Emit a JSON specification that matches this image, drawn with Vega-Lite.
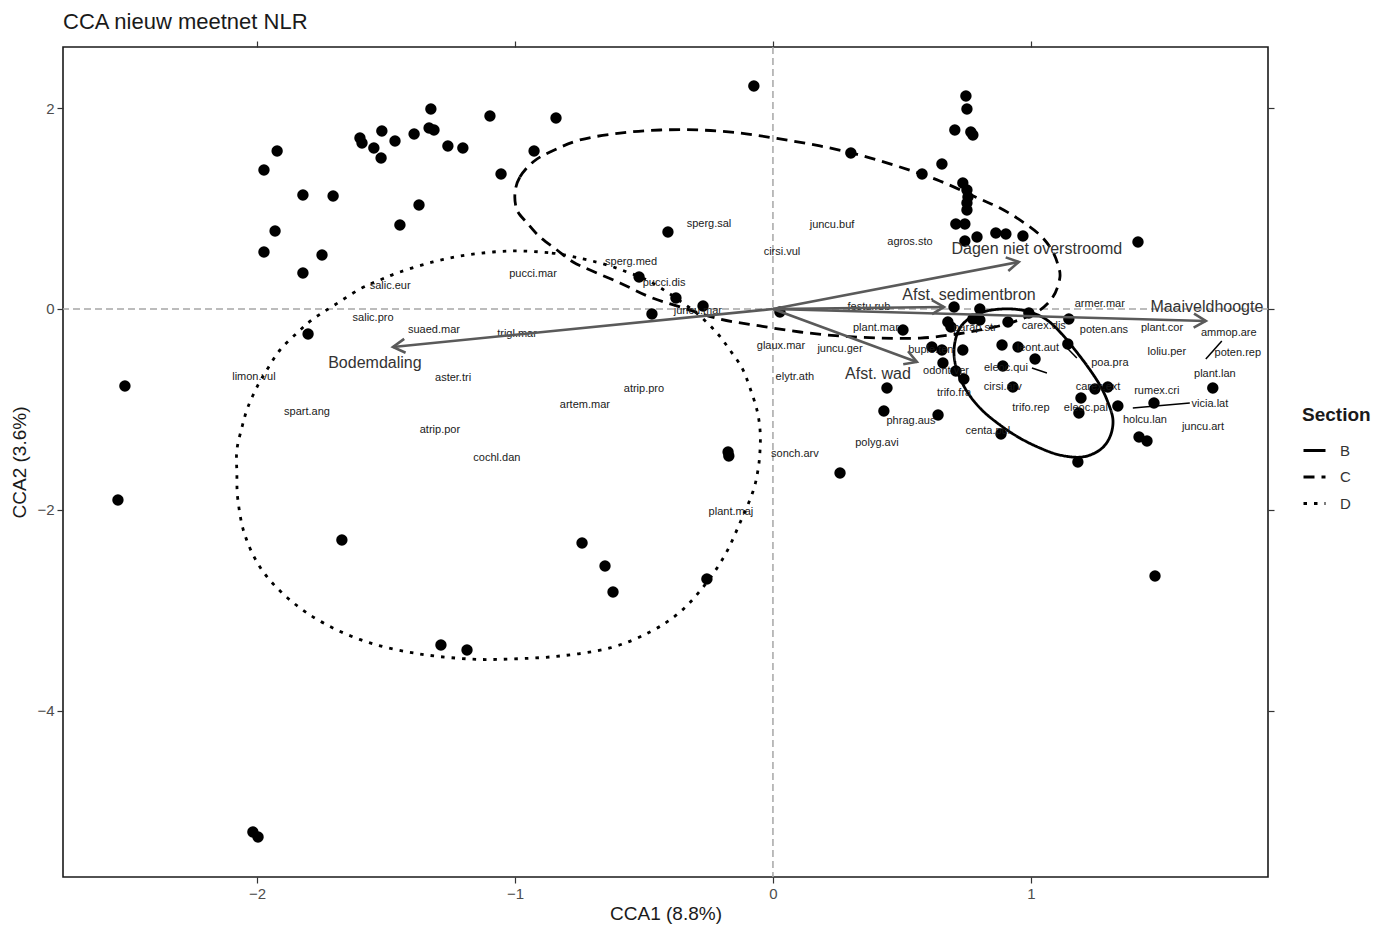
{
  "$schema": "https://vega.github.io/schema/vega-lite/v6.json",
  "width": 1205,
  "height": 830,
  "autosize": {"type": "none"},
  "padding": {"left": 63, "top": 47, "right": 107, "bottom": 48},
  "background": "white",
  "title": {"text": "CCA nieuw meetnet NLR", "anchor": "start", "frame": "group", "fontSize": 22, "font": "Liberation Sans", "fontWeight": "normal", "color": "#1a1a1a", "offset": 6},
  "config": {"view": {"stroke": "#1a1a1a", "strokeWidth": 1.6}, "font": "Liberation Sans"},
  "datasets": {
    "pts": [
      {"x": -1.922, "y": 1.572}, {"x": -1.973, "y": 1.383}, {"x": -1.822, "y": 1.134}, {"x": -1.705, "y": 1.124},
      {"x": -1.930, "y": 0.776}, {"x": -1.973, "y": 0.567}, {"x": -1.748, "y": 0.537}, {"x": -1.822, "y": 0.358},
      {"x": -1.601, "y": 1.701}, {"x": -1.593, "y": 1.652}, {"x": -1.547, "y": 1.602}, {"x": -1.519, "y": 1.502},
      {"x": -1.516, "y": 1.771}, {"x": -1.465, "y": 1.672}, {"x": -1.391, "y": 1.741}, {"x": -1.326, "y": 1.990},
      {"x": -1.333, "y": 1.801}, {"x": -1.314, "y": 1.781}, {"x": -1.260, "y": 1.622}, {"x": -1.202, "y": 1.602},
      {"x": -1.097, "y": 1.920}, {"x": -0.841, "y": 1.900}, {"x": -0.926, "y": 1.572}, {"x": -1.054, "y": 1.343},
      {"x": -1.372, "y": 1.035}, {"x": -1.446, "y": 0.836}, {"x": -1.802, "y": -0.249}, {"x": -2.512, "y": -0.766},
      {"x": -2.539, "y": -1.900}, {"x": -1.671, "y": -2.299}, {"x": -2.016, "y": -5.204}, {"x": -1.996, "y": -5.254},
      {"x": -0.074, "y": 2.219}, {"x": -0.407, "y": 0.766}, {"x": -0.519, "y": 0.318}, {"x": -0.376, "y": 0.109},
      {"x": -0.271, "y": 0.030}, {"x": -0.469, "y": -0.050}, {"x": 0.027, "y": -0.030}, {"x": 0.302, "y": 1.552},
      {"x": 0.578, "y": 1.343}, {"x": 0.655, "y": 1.443}, {"x": -0.174, "y": -1.423}, {"x": -0.171, "y": -1.463},
      {"x": -0.740, "y": -2.328}, {"x": -0.651, "y": -2.557}, {"x": -0.620, "y": -2.816}, {"x": -0.256, "y": -2.687},
      {"x": -1.287, "y": -3.343}, {"x": -1.186, "y": -3.393}, {"x": 0.260, "y": -1.632},
      {"x": 0.748, "y": 2.119}, {"x": 0.752, "y": 1.990}, {"x": 0.705, "y": 1.781}, {"x": 0.767, "y": 1.761},
      {"x": 0.775, "y": 1.731}, {"x": 0.736, "y": 1.254}, {"x": 0.752, "y": 1.184}, {"x": 0.756, "y": 1.114},
      {"x": 0.752, "y": 1.055}, {"x": 0.752, "y": 0.985}, {"x": 0.709, "y": 0.846}, {"x": 0.744, "y": 0.846},
      {"x": 0.744, "y": 0.677}, {"x": 0.791, "y": 0.716}, {"x": 0.864, "y": 0.756}, {"x": 0.903, "y": 0.746},
      {"x": 0.969, "y": 0.726}, {"x": 1.415, "y": 0.667},
      {"x": 0.702, "y": 0.020}, {"x": 0.802, "y": 0.000}, {"x": 0.802, "y": -0.109}, {"x": 0.775, "y": -0.100},
      {"x": 0.678, "y": -0.129}, {"x": 0.690, "y": -0.179}, {"x": 0.911, "y": -0.129}, {"x": 0.992, "y": -0.040},
      {"x": 1.147, "y": -0.100}, {"x": 0.504, "y": -0.209}, {"x": 0.616, "y": -0.378}, {"x": 0.655, "y": -0.408},
      {"x": 0.659, "y": -0.537}, {"x": 0.736, "y": -0.408}, {"x": 0.709, "y": -0.617}, {"x": 0.740, "y": -0.697},
      {"x": 0.888, "y": -0.358}, {"x": 0.950, "y": -0.378}, {"x": 1.016, "y": -0.498}, {"x": 0.891, "y": -0.567},
      {"x": 0.930, "y": -0.776}, {"x": 1.143, "y": -0.348}, {"x": 1.248, "y": -0.796}, {"x": 1.298, "y": -0.776},
      {"x": 1.194, "y": -0.886}, {"x": 1.186, "y": -1.035}, {"x": 1.337, "y": -0.965}, {"x": 0.442, "y": -0.786},
      {"x": 0.430, "y": -1.015}, {"x": 0.640, "y": -1.055}, {"x": 0.884, "y": -1.244}, {"x": 1.477, "y": -0.935},
      {"x": 1.705, "y": -0.786}, {"x": 1.419, "y": -1.274}, {"x": 1.450, "y": -1.313}, {"x": 1.182, "y": -1.522},
      {"x": 1.481, "y": -2.657}
    ],
    "species": [
      {"label": "salic.eur", "x": -1.484, "y": 0.229}, {"label": "salic.pro", "x": -1.550, "y": -0.090},
      {"label": "suaed.mar", "x": -1.314, "y": -0.209}, {"label": "trigl.mar", "x": -0.992, "y": -0.249},
      {"label": "pucci.mar", "x": -0.930, "y": 0.348}, {"label": "limon.vul", "x": -2.012, "y": -0.677},
      {"label": "spart.ang", "x": -1.806, "y": -1.025}, {"label": "aster.tri", "x": -1.240, "y": -0.687},
      {"label": "atrip.por", "x": -1.291, "y": -1.204}, {"label": "cochl.dan", "x": -1.070, "y": -1.483},
      {"label": "artem.mar", "x": -0.729, "y": -0.955}, {"label": "atrip.pro", "x": -0.500, "y": -0.796},
      {"label": "sperg.sal", "x": -0.248, "y": 0.846}, {"label": "sperg.med", "x": -0.550, "y": 0.468},
      {"label": "pucci.dis", "x": -0.422, "y": 0.259}, {"label": "juncu.mar", "x": -0.291, "y": -0.020},
      {"label": "cirsi.vul", "x": 0.035, "y": 0.567}, {"label": "juncu.buf", "x": 0.229, "y": 0.836},
      {"label": "agros.sto", "x": 0.531, "y": 0.667}, {"label": "glaux.mar", "x": 0.031, "y": -0.368},
      {"label": "juncu.ger", "x": 0.260, "y": -0.398}, {"label": "elytr.ath", "x": 0.085, "y": -0.677},
      {"label": "sonch.arv", "x": 0.085, "y": -1.443}, {"label": "plant.maj", "x": -0.163, "y": -2.020},
      {"label": "festu.rub", "x": 0.372, "y": 0.020}, {"label": "plant.mar", "x": 0.399, "y": -0.189},
      {"label": "parap.str", "x": 0.783, "y": -0.189}, {"label": "carex.dis", "x": 1.050, "y": -0.169},
      {"label": "armer.mar", "x": 1.267, "y": 0.050}, {"label": "poten.ans", "x": 1.283, "y": -0.209},
      {"label": "plant.cor", "x": 1.508, "y": -0.189}, {"label": "ammop.are", "x": 1.767, "y": -0.239},
      {"label": "loliu.per", "x": 1.527, "y": -0.428}, {"label": "poten.rep", "x": 1.802, "y": -0.438},
      {"label": "plant.lan", "x": 1.713, "y": -0.647}, {"label": "buple.ten", "x": 0.612, "y": -0.408},
      {"label": "odont.ver", "x": 0.671, "y": -0.617}, {"label": "trifo.fra", "x": 0.702, "y": -0.836},
      {"label": "eleoc.qui", "x": 0.903, "y": -0.587}, {"label": "leont.aut", "x": 1.027, "y": -0.388},
      {"label": "cirsi.arv", "x": 0.891, "y": -0.776}, {"label": "poa.pra", "x": 1.306, "y": -0.537},
      {"label": "carex.ext", "x": 1.260, "y": -0.776}, {"label": "eleoc.pal", "x": 1.213, "y": -0.985},
      {"label": "trifo.rep", "x": 1.000, "y": -0.985}, {"label": "rumex.cri", "x": 1.488, "y": -0.816},
      {"label": "vicia.lat", "x": 1.694, "y": -0.945}, {"label": "holcu.lan", "x": 1.442, "y": -1.104},
      {"label": "juncu.art", "x": 1.667, "y": -1.174}, {"label": "centa.pul", "x": 0.833, "y": -1.214},
      {"label": "phrag.aus", "x": 0.535, "y": -1.114}, {"label": "polyg.avi", "x": 0.403, "y": -1.333}
    ],
    "arrows": [
      {"name": "Dagen niet overstroomd", "x": 0.953, "y": 0.468},
      {"name": "Afst. sedimentbron", "x": 0.663, "y": 0.020},
      {"name": "Maaiveldhoogte", "x": 1.678, "y": -0.119},
      {"name": "Afst. wad", "x": 0.558, "y": -0.527},
      {"name": "Bodemdaling", "x": -1.473, "y": -0.378}
    ],
    "arrowlabels": [
      {"label": "Dagen niet overstroomd", "x": 1.023, "y": 0.597},
      {"label": "Afst. sedimentbron", "x": 0.760, "y": 0.139},
      {"label": "Maaiveldhoogte", "x": 1.682, "y": 0.020},
      {"label": "Afst. wad", "x": 0.407, "y": -0.647},
      {"label": "Bodemdaling", "x": -1.543, "y": -0.537}
    ],
    "segments": [
      {"x": 1.678, "y": -0.498, "x2": 1.740, "y2": -0.318},
      {"x": 1.395, "y": -0.985, "x2": 1.616, "y2": -0.935},
      {"x": 1.004, "y": -0.587, "x2": 1.062, "y2": -0.637},
      {"x": 1.140, "y": -0.388, "x2": 1.178, "y2": -0.488}
    ],
    "ellipses": [
      {"g": "D", "o": 1, "x": -1.019, "y": 0.577}, {"g": "D", "o": 2, "x": -0.857, "y": 0.557},
      {"g": "D", "o": 3, "x": -0.736, "y": 0.498}, {"g": "D", "o": 4, "x": -0.643, "y": 0.438},
      {"g": "D", "o": 5, "x": -0.566, "y": 0.368}, {"g": "D", "o": 6, "x": -0.488, "y": 0.289},
      {"g": "D", "o": 7, "x": -0.411, "y": 0.169}, {"g": "D", "o": 8, "x": -0.349, "y": 0.060},
      {"g": "D", "o": 9, "x": -0.283, "y": -0.070}, {"g": "D", "o": 10, "x": -0.217, "y": -0.239},
      {"g": "D", "o": 11, "x": -0.167, "y": -0.408}, {"g": "D", "o": 12, "x": -0.120, "y": -0.587},
      {"g": "D", "o": 13, "x": -0.089, "y": -0.786}, {"g": "D", "o": 14, "x": -0.062, "y": -1.005},
      {"g": "D", "o": 15, "x": -0.050, "y": -1.204}, {"g": "D", "o": 16, "x": -0.050, "y": -1.403},
      {"g": "D", "o": 17, "x": -0.058, "y": -1.602}, {"g": "D", "o": 18, "x": -0.078, "y": -1.821},
      {"g": "D", "o": 19, "x": -0.128, "y": -2.129}, {"g": "D", "o": 20, "x": -0.186, "y": -2.448},
      {"g": "D", "o": 21, "x": -0.264, "y": -2.746}, {"g": "D", "o": 22, "x": -0.360, "y": -3.015},
      {"g": "D", "o": 23, "x": -0.477, "y": -3.214}, {"g": "D", "o": 24, "x": -0.632, "y": -3.373},
      {"g": "D", "o": 25, "x": -0.826, "y": -3.453}, {"g": "D", "o": 26, "x": -1.019, "y": -3.483},
      {"g": "D", "o": 27, "x": -1.174, "y": -3.483}, {"g": "D", "o": 28, "x": -1.368, "y": -3.433},
      {"g": "D", "o": 29, "x": -1.562, "y": -3.323}, {"g": "D", "o": 30, "x": -1.736, "y": -3.134},
      {"g": "D", "o": 31, "x": -1.872, "y": -2.896}, {"g": "D", "o": 32, "x": -1.981, "y": -2.597},
      {"g": "D", "o": 33, "x": -2.047, "y": -2.249}, {"g": "D", "o": 34, "x": -2.074, "y": -1.900},
      {"g": "D", "o": 35, "x": -2.078, "y": -1.632}, {"g": "D", "o": 36, "x": -2.078, "y": -1.403},
      {"g": "D", "o": 37, "x": -2.058, "y": -1.174}, {"g": "D", "o": 38, "x": -2.035, "y": -0.975},
      {"g": "D", "o": 39, "x": -1.996, "y": -0.756}, {"g": "D", "o": 40, "x": -1.957, "y": -0.587},
      {"g": "D", "o": 41, "x": -1.911, "y": -0.408}, {"g": "D", "o": 42, "x": -1.845, "y": -0.239},
      {"g": "D", "o": 43, "x": -1.783, "y": -0.100}, {"g": "D", "o": 44, "x": -1.705, "y": 0.030},
      {"g": "D", "o": 45, "x": -1.601, "y": 0.199}, {"g": "D", "o": 46, "x": -1.523, "y": 0.289},
      {"g": "D", "o": 47, "x": -1.446, "y": 0.368}, {"g": "D", "o": 48, "x": -1.318, "y": 0.468},
      {"g": "D", "o": 49, "x": -1.186, "y": 0.537},
      {"g": "C", "o": 1, "x": -1.000, "y": 1.154}, {"g": "C", "o": 2, "x": -0.981, "y": 1.313},
      {"g": "C", "o": 3, "x": -0.930, "y": 1.463}, {"g": "C", "o": 4, "x": -0.864, "y": 1.562},
      {"g": "C", "o": 5, "x": -0.748, "y": 1.682}, {"g": "C", "o": 6, "x": -0.593, "y": 1.751},
      {"g": "C", "o": 7, "x": -0.438, "y": 1.781}, {"g": "C", "o": 8, "x": -0.283, "y": 1.781},
      {"g": "C", "o": 9, "x": -0.128, "y": 1.751}, {"g": "C", "o": 10, "x": 0.027, "y": 1.692},
      {"g": "C", "o": 11, "x": 0.182, "y": 1.622}, {"g": "C", "o": 12, "x": 0.337, "y": 1.532},
      {"g": "C", "o": 13, "x": 0.492, "y": 1.413}, {"g": "C", "o": 14, "x": 0.647, "y": 1.274},
      {"g": "C", "o": 15, "x": 0.802, "y": 1.095}, {"g": "C", "o": 16, "x": 0.880, "y": 1.005},
      {"g": "C", "o": 17, "x": 0.957, "y": 0.886}, {"g": "C", "o": 18, "x": 1.035, "y": 0.736},
      {"g": "C", "o": 19, "x": 1.081, "y": 0.587}, {"g": "C", "o": 20, "x": 1.105, "y": 0.438},
      {"g": "C", "o": 21, "x": 1.112, "y": 0.308}, {"g": "C", "o": 22, "x": 1.085, "y": 0.119},
      {"g": "C", "o": 23, "x": 1.023, "y": -0.030}, {"g": "C", "o": 24, "x": 0.919, "y": -0.139},
      {"g": "C", "o": 25, "x": 0.802, "y": -0.209}, {"g": "C", "o": 26, "x": 0.686, "y": -0.259},
      {"g": "C", "o": 27, "x": 0.570, "y": -0.289}, {"g": "C", "o": 28, "x": 0.415, "y": -0.289},
      {"g": "C", "o": 29, "x": 0.260, "y": -0.269}, {"g": "C", "o": 30, "x": 0.105, "y": -0.229},
      {"g": "C", "o": 31, "x": -0.050, "y": -0.169}, {"g": "C", "o": 32, "x": -0.205, "y": -0.100},
      {"g": "C", "o": 33, "x": -0.360, "y": 0.020}, {"g": "C", "o": 34, "x": -0.477, "y": 0.119},
      {"g": "C", "o": 35, "x": -0.593, "y": 0.259}, {"g": "C", "o": 36, "x": -0.709, "y": 0.388},
      {"g": "C", "o": 37, "x": -0.775, "y": 0.468}, {"g": "C", "o": 38, "x": -0.837, "y": 0.587},
      {"g": "C", "o": 39, "x": -0.903, "y": 0.716}, {"g": "C", "o": 40, "x": -0.953, "y": 0.856},
      {"g": "C", "o": 41, "x": -0.992, "y": 0.985},
      {"g": "B", "o": 1, "x": 0.733, "y": -0.159}, {"g": "B", "o": 2, "x": 0.783, "y": -0.060},
      {"g": "B", "o": 3, "x": 0.849, "y": -0.010}, {"g": "B", "o": 4, "x": 0.926, "y": 0.000},
      {"g": "B", "o": 5, "x": 0.996, "y": -0.030}, {"g": "B", "o": 6, "x": 1.062, "y": -0.109},
      {"g": "B", "o": 7, "x": 1.120, "y": -0.249}, {"g": "B", "o": 8, "x": 1.171, "y": -0.408},
      {"g": "B", "o": 9, "x": 1.221, "y": -0.577}, {"g": "B", "o": 10, "x": 1.267, "y": -0.756},
      {"g": "B", "o": 11, "x": 1.298, "y": -0.925}, {"g": "B", "o": 12, "x": 1.318, "y": -1.104},
      {"g": "B", "o": 13, "x": 1.306, "y": -1.274}, {"g": "B", "o": 14, "x": 1.267, "y": -1.403},
      {"g": "B", "o": 15, "x": 1.198, "y": -1.473}, {"g": "B", "o": 16, "x": 1.112, "y": -1.453},
      {"g": "B", "o": 17, "x": 1.035, "y": -1.383}, {"g": "B", "o": 18, "x": 0.957, "y": -1.284},
      {"g": "B", "o": 19, "x": 0.880, "y": -1.154}, {"g": "B", "o": 20, "x": 0.810, "y": -1.005},
      {"g": "B", "o": 21, "x": 0.756, "y": -0.836}, {"g": "B", "o": 22, "x": 0.717, "y": -0.637},
      {"g": "B", "o": 23, "x": 0.702, "y": -0.458}, {"g": "B", "o": 24, "x": 0.709, "y": -0.289}
    ]
  },
  "layer": [
    {
      "data": {"values": [{"x": 0}]},
      "mark": {"type": "rule", "color": "#a6a6a6", "strokeWidth": 1.5, "strokeDash": [7, 4]},
      "encoding": {
        "x": {"field": "x", "type": "quantitative", "scale": {"domain": [-2.752, 1.919], "nice": false, "zero": false},
          "axis": {"orient": "bottom", "values": [-2, -1, 0, 1], "title": "CCA1 (8.8%)", "grid": false, "domain": false,
            "tickSize": 6, "tickWidth": 1.2, "tickColor": "#333333", "labelFontSize": 15, "labelColor": "#4d4d4d",
            "labelFont": "Liberation Sans", "labelPadding": 3, "titleFontSize": 19, "titleFont": "Liberation Sans",
            "titleFontWeight": "normal", "titleColor": "#1a1a1a", "titlePadding": 3}}
      }
    },
    {
      "data": {"values": [{"y": 0}]},
      "mark": {"type": "rule", "color": "#a6a6a6", "strokeWidth": 1.5, "strokeDash": [7, 4]},
      "encoding": {
        "y": {"field": "y", "type": "quantitative", "scale": {"domain": [-5.652, 2.607], "nice": false, "zero": false},
          "axis": {"orient": "left", "values": [-4, -2, 0, 2], "title": "CCA2 (3.6%)", "grid": false, "domain": false,
            "tickSize": 6, "tickWidth": 1.2, "tickColor": "#333333", "labelFontSize": 15, "labelColor": "#4d4d4d",
            "labelFont": "Liberation Sans", "labelPadding": 3, "titleFontSize": 19, "titleFont": "Liberation Sans",
            "titleFontWeight": "normal", "titleColor": "#1a1a1a", "titlePadding": 7}}
      }
    },
    {
      "data": {"name": "ellipses"},
      "mark": {"type": "line", "interpolate": "cardinal-closed", "color": "#000000", "strokeWidth": 2.8},
      "encoding": {
        "x": {"field": "x", "type": "quantitative", "scale": {"domain": [-2.752, 1.919], "nice": false, "zero": false}, "axis": null},
        "y": {"field": "y", "type": "quantitative", "scale": {"domain": [-5.652, 2.607], "nice": false, "zero": false}, "axis": null},
        "order": {"field": "o", "type": "quantitative"},
        "strokeDash": {"field": "g", "type": "nominal", "title": "Section",
          "scale": {"domain": ["B", "C", "D"], "range": [[1, 0], [11, 7], [3.5, 7]]},
          "legend": {"orient": "none", "legendX": 1239, "legendY": 359, "titleFontSize": 19, "titleFontWeight": "bold",
            "titleFont": "Liberation Sans", "titleColor": "#1a1a1a", "labelFontSize": 15, "labelFont": "Liberation Sans",
            "labelColor": "#333333", "symbolType": "stroke", "symbolSize": 484, "symbolStrokeWidth": 3,
            "symbolStrokeColor": "#000000", "rowPadding": 5.5, "labelOffset": 13, "titlePadding": 13}}
      }
    },
    {
      "data": {"name": "pts"},
      "mark": {"type": "circle", "size": 130, "color": "#000000", "opacity": 1},
      "encoding": {
        "x": {"field": "x", "type": "quantitative", "scale": {"domain": [-2.752, 1.919], "nice": false, "zero": false},
          "axis": {"orient": "top", "values": [-2, -1, 0, 1], "labels": false, "title": null, "grid": false, "domain": false,
            "tickSize": 6, "tickWidth": 1.2, "tickColor": "#333333"}},
        "y": {"field": "y", "type": "quantitative", "scale": {"domain": [-5.652, 2.607], "nice": false, "zero": false},
          "axis": {"orient": "right", "values": [-4, -2, 0, 2], "labels": false, "title": null, "grid": false, "domain": false,
            "tickSize": 6, "tickWidth": 1.2, "tickColor": "#333333"}}
      }
    },
    {
      "data": {"name": "segments"},
      "mark": {"type": "rule", "color": "#000000", "strokeWidth": 1.5},
      "encoding": {
        "x": {"field": "x", "type": "quantitative", "scale": {"domain": [-2.752, 1.919], "nice": false, "zero": false}, "axis": null},
        "y": {"field": "y", "type": "quantitative", "scale": {"domain": [-5.652, 2.607], "nice": false, "zero": false}, "axis": null},
        "x2": {"field": "x2"},
        "y2": {"field": "y2"}
      }
    },
    {
      "data": {"name": "species"},
      "mark": {"type": "text", "fontSize": 11, "font": "Liberation Sans", "color": "#1a1a1a", "align": "center", "baseline": "middle"},
      "encoding": {
        "x": {"field": "x", "type": "quantitative", "scale": {"domain": [-2.752, 1.919], "nice": false, "zero": false}, "axis": null},
        "y": {"field": "y", "type": "quantitative", "scale": {"domain": [-5.652, 2.607], "nice": false, "zero": false}, "axis": null},
        "text": {"field": "label", "type": "nominal"}
      }
    },
    {
      "data": {"name": "arrows"},
      "mark": {"type": "rule", "color": "#5a5a5a", "strokeWidth": 2.6},
      "encoding": {
        "x": {"field": "x", "type": "quantitative", "scale": {"domain": [-2.752, 1.919], "nice": false, "zero": false}, "axis": null},
        "y": {"field": "y", "type": "quantitative", "scale": {"domain": [-5.652, 2.607], "nice": false, "zero": false}, "axis": null},
        "x2": {"datum": 0},
        "y2": {"datum": 0}
      }
    },
    {
      "data": {"name": "arrows"},
      "transform": [{"calculate": "atan2(-datum.y * 100.5, datum.x * 257.97) * 180 / PI", "as": "ang"}],
      "mark": {"type": "point", "shape": "M -1 -0.58 L 0 0 L -1 0.58", "filled": false, "stroke": "#5a5a5a", "strokeWidth": 2.6, "size": 576, "opacity": 1},
      "encoding": {
        "x": {"field": "x", "type": "quantitative", "scale": {"domain": [-2.752, 1.919], "nice": false, "zero": false}, "axis": null},
        "y": {"field": "y", "type": "quantitative", "scale": {"domain": [-5.652, 2.607], "nice": false, "zero": false}, "axis": null},
        "angle": {"field": "ang", "type": "quantitative", "scale": null}
      }
    },
    {
      "data": {"name": "arrowlabels"},
      "mark": {"type": "text", "fontSize": 16, "font": "Liberation Sans", "color": "#333333", "align": "center", "baseline": "middle"},
      "encoding": {
        "x": {"field": "x", "type": "quantitative", "scale": {"domain": [-2.752, 1.919], "nice": false, "zero": false}, "axis": null},
        "y": {"field": "y", "type": "quantitative", "scale": {"domain": [-5.652, 2.607], "nice": false, "zero": false}, "axis": null},
        "text": {"field": "label", "type": "nominal"}
      }
    }
  ],
  "resolve": {"axis": {"x": "independent", "y": "independent"}}
}
